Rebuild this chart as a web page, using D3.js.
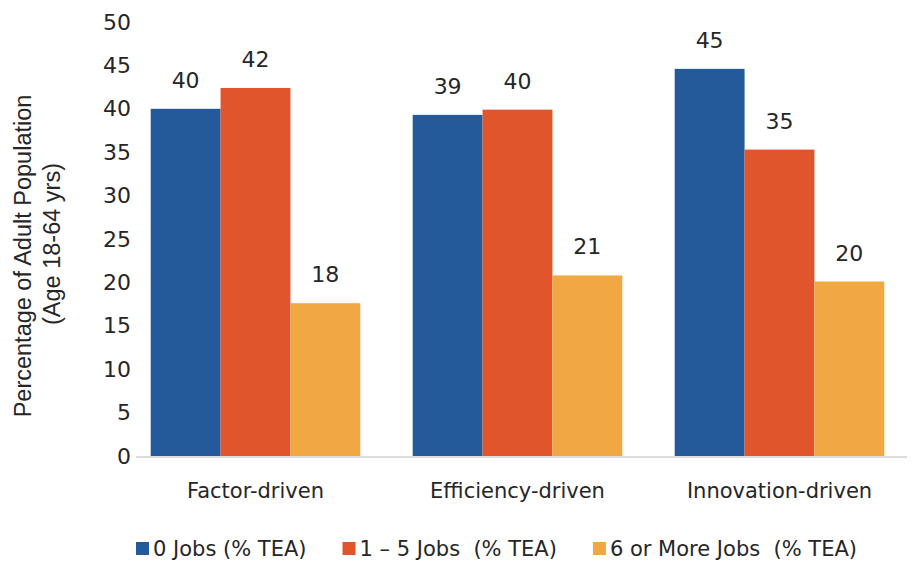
<!DOCTYPE html>
<html>
<head>
<meta charset="utf-8">
<script src="https://cdn.jsdelivr.net/npm/d3@7"></script>
<style>
  body { margin: 0; background: #fff; }
  text { fill: #262626; }
</style>
</head>
<body>
<script>
// values (heights), labels are the rounded numbers
var categories = ["Factor-driven", "Efficiency-driven", "Innovation-driven"];
var series = ["0 Jobs (% TEA)", "1 \u2013 5 Jobs  (% TEA)", "6 or More Jobs  (% TEA)"];
var zeroJobs = [40.0, 39.3, 44.6];
var oneToFive = [42.4, 39.9, 35.3];
var sixOrMore = [17.6, 20.8, 20.1];
var yTicks = [0, 5, 10, 15, 20, 25, 30, 35, 40, 45, 50];
var colors = ["#245a99", "#e0552b", "#f1a843"];

var width = 914, height = 562;
var tickFont = "'DejaVu Sans', sans-serif";

var svg = d3.select("body")
    .append("svg")
    .attr("width", width)
    .attr("height", height);

var values = [zeroJobs, oneToFive, sixOrMore];
var data = [];
categories.forEach(function (c, i) {
    series.forEach(function (s, j) {
        data.push({ cat: c, series: s, idx: j, value: values[j][i] });
    });
});

var x = d3.scaleBand()
    .domain(categories)
    .range([124.5, 910.5])
    .paddingInner(0.2)
    .paddingOuter(0.1);

var xs = d3.scaleBand()
    .domain(series)
    .range([0, x.bandwidth()]);

var y = d3.scaleLinear()
    .domain([0, 50])
    .range([456, 22]);

// y axis, labels only
var yAxis = svg.append("g")
    .attr("transform", "translate(136,0)")
    .call(d3.axisLeft(y).tickValues(yTicks).tickSize(0).tickPadding(5));
yAxis.select(".domain").remove();
yAxis.selectAll("text")
    .style("font-family", tickFont)
    .style("font-size", "22px")
    .attr("fill", "#262626");

// baseline
svg.append("line")
    .attr("x1", 136)
    .attr("x2", 907)
    .attr("y1", y(0) + 1)
    .attr("y2", y(0) + 1)
    .attr("stroke", "#dcdcdc")
    .attr("stroke-width", 2);

// bars
svg.append("g")
    .selectAll("rect")
    .data(data)
    .enter()
    .append("rect")
    .attr("x", function (d) { return x(d.cat) + xs(d.series); })
    .attr("y", function (d) { return y(d.value); })
    .attr("width", xs.bandwidth())
    .attr("height", function (d) { return y(0) - y(d.value); })
    .attr("fill", function (d) { return colors[d.idx]; });

// value labels
svg.append("g")
    .selectAll("text")
    .data(data)
    .enter()
    .append("text")
    .attr("x", function (d) { return x(d.cat) + xs(d.series) + xs.bandwidth() / 2; })
    .attr("y", function (d) { return y(d.value) - 21; })
    .attr("text-anchor", "middle")
    .style("font-family", tickFont)
    .style("font-size", "22px")
    .text(function (d) { return d3.format(".0f")(d.value); });

// category labels
var xAxis = svg.append("g")
    .attr("transform", "translate(0," + y(0) + ")")
    .call(d3.axisBottom(x).tickSize(0).tickPadding(27));
xAxis.select(".domain").remove();
xAxis.selectAll("text")
    .style("font-family", tickFont)
    .style("font-size", "21px")
    .attr("fill", "#262626");

// y title
var title = svg.append("text")
    .attr("transform", "translate(0,250) rotate(-90)")
    .attr("text-anchor", "middle")
    .style("font-family", "'Liberation Sans', Arial, sans-serif")
    .style("font-size", "23.5px");
title.append("tspan").attr("x", -6).attr("y", 31).text("Percentage of Adult Population");
title.append("tspan").attr("x", 6).attr("y", 60).text("(Age 18-64 yrs)");

// legend
var legend = svg.append("g").attr("class", "legend");
var lx = 136;
series.forEach(function (s, i) {
    legend.append("rect")
        .attr("x", lx)
        .attr("y", 542)
        .attr("width", 13)
        .attr("height", 13)
        .attr("fill", colors[i]);
    var t = legend.append("text")
        .attr("x", lx + 17)
        .attr("y", 556)
        .attr("xml:space", "preserve")
        .style("white-space", "pre")
        .style("font-family", tickFont)
        .style("font-size", "21px")
        .text(s);
    lx = lx + 17 + t.node().getComputedTextLength() + 36;
});
</script>
</body>
</html>
